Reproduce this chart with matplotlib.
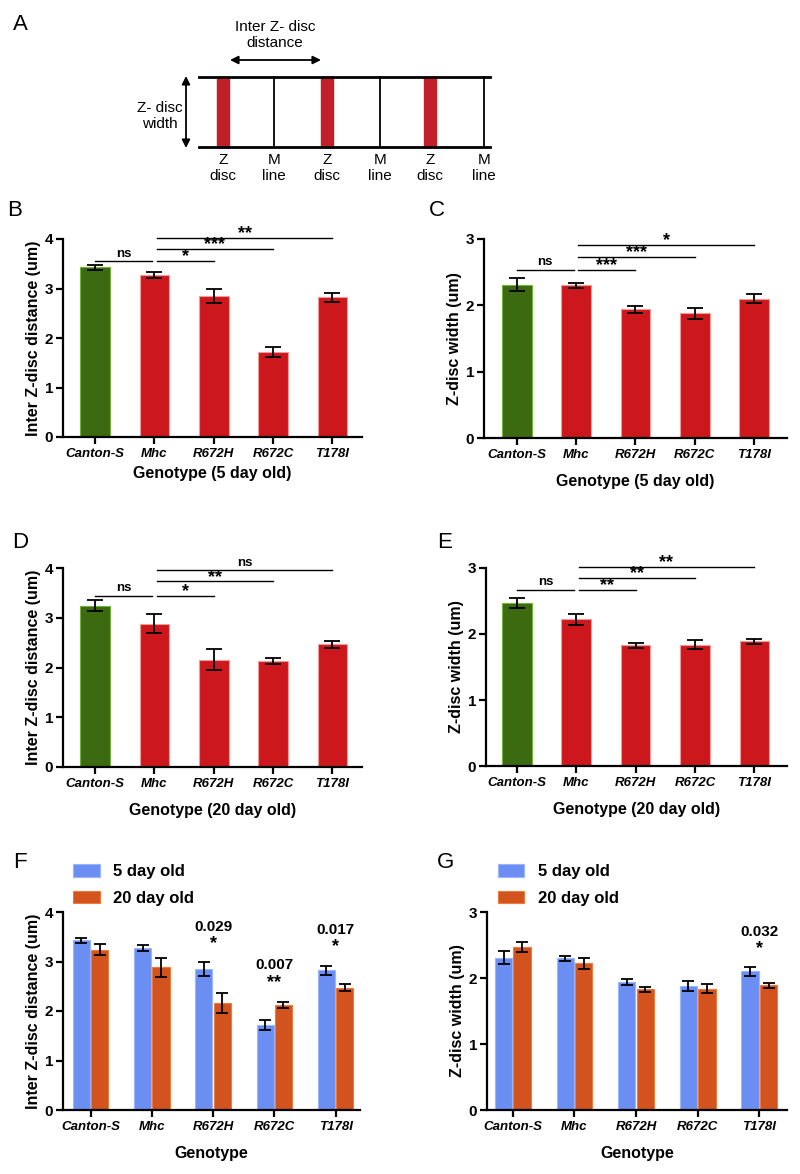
import numpy as np
import matplotlib
matplotlib.use("Agg")
import matplotlib.pyplot as plt
from matplotlib.patches import Rectangle

plt.rcParams['font.family'] = ['Liberation Sans', 'DejaVu Sans']
plt.rcParams['font.weight'] = 'bold'
plt.rcParams['axes.labelweight'] = 'bold'

# data
genotypes = ["Canton-S", "Mhc", "R672H", "R672C", "T178I"]

dist_5d = [3.43, 3.28, 2.84, 1.72, 2.82]
dist_5d_err = [0.05, 0.06, 0.14, 0.10, 0.09]
width_5d = [2.31, 2.30, 1.94, 1.88, 2.10]
width_5d_err = [0.10, 0.04, 0.05, 0.08, 0.07]
dist_20d = [3.24, 2.88, 2.16, 2.13, 2.47]
dist_20d_err = [0.11, 0.19, 0.21, 0.06, 0.07]
width_20d = [2.47, 2.22, 1.83, 1.84, 1.89]
width_20d_err = [0.08, 0.08, 0.04, 0.07, 0.04]

# significance brackets (from, to, height, label)
sig_b = [(0, 1, 3.55, "ns"), (1, 2, 3.55, "*"), (1, 3, 3.80, "***"), (1, 4, 4.03, "**")]
sig_c = [(0, 1, 2.54, "ns"), (1, 2, 2.54, "***"), (1, 3, 2.73, "***"), (1, 4, 2.91, "*")]
sig_d = [(0, 1, 3.44, "ns"), (1, 2, 3.44, "*"), (1, 3, 3.73, "**"), (1, 4, 3.95, "ns")]
sig_e = [(0, 1, 2.67, "ns"), (1, 2, 2.67, "**"), (1, 3, 2.85, "**"), (1, 4, 3.02, "**")]

# 5 vs 20 day tests (group, p value, stars, height)
pval_f = [(2, "0.029", "*", 3.70), (3, "0.007", "**", 2.92), (4, "0.017", "*", 3.64)]
pval_g = [(4, "0.032", "*", 2.70)]

GREEN = '#3b6a10'
GREEN_EDGE = '#74b03a'
RED = '#cc181c'
RED_EDGE = '#f29a9a'
BLUE = '#6b8ef2'
BLUE_EDGE = '#9ab6ff'
ORANGE = '#d2531d'
ORANGE_EDGE = '#f07a3a'

W, H = 800, 1174
fig = plt.figure(figsize=(W / 100, H / 100), dpi=100)


def px_axes(left, right, bottom, top):
    return fig.add_axes([left / W, 1 - bottom / H, (right - left) / W, (bottom - top) / H])


def style_axes(ax, ymax, ylabel, xlabel, xlim, xpad=9):
    for s in ['top', 'right']:
        ax.spines[s].set_visible(False)
    for s in ['left', 'bottom']:
        ax.spines[s].set_linewidth(1.6)
    ax.set_ylim(0, ymax)
    ax.set_xlim(*xlim)
    ax.set_yticks(range(ymax + 1))
    ax.set_yticklabels([str(v) for v in range(ymax + 1)], fontweight='bold', fontsize=11)
    ax.set_xticks(range(len(genotypes)))
    ax.set_xticklabels(genotypes, fontstyle='italic', fontweight='bold', fontsize=9.5)
    ax.tick_params(axis='y', width=1.6, length=5, pad=2)
    ax.tick_params(axis='x', width=1.6, length=5, pad=3)
    ax.set_ylabel(ylabel, fontsize=11.5, fontweight='bold', labelpad=3)
    ax.set_xlabel(xlabel, fontsize=11.5, fontweight='bold', labelpad=xpad)


def single_bars(ax, vals, errs, sigs):
    x = np.arange(len(vals))
    colors = [GREEN] + [RED] * (len(vals) - 1)
    edges = [GREEN_EDGE] + [RED_EDGE] * (len(vals) - 1)
    ax.bar(x, vals, width=0.5, color=colors, edgecolor=edges, linewidth=0.8, zorder=2)
    ax.errorbar(x, vals, yerr=errs, fmt='none', ecolor='black', elinewidth=1.3,
                capsize=6, capthick=1.3, zorder=3)
    for i, j, h, lab in sigs:
        x0 = i if i == 0 else i + 0.04
        x1 = j - 0.04 if j == 1 else j
        ax.plot([x0, x1], [h, h], color='black', lw=1, clip_on=False)
        if lab == "ns":
            ax.annotate(lab, ((x0 + x1) / 2, h), xytext=(0, 1), textcoords='offset points',
                        ha='center', va='bottom', fontsize=9.5, fontweight='bold',
                        annotation_clip=False)
        else:
            ax.annotate(lab, ((x0 + x1) / 2, h), xytext=(0, -3), textcoords='offset points',
                        ha='center', va='bottom', fontsize=13, fontweight='bold',
                        annotation_clip=False)


def grouped_bars(ax, v5, e5, v20, e20, pvals):
    x = np.arange(len(v5))
    ax.bar(x - 0.15, v5, width=0.28, color=BLUE, edgecolor=BLUE_EDGE, linewidth=0.8,
           label='5 day old', zorder=2)
    ax.bar(x + 0.15, v20, width=0.28, color=ORANGE, edgecolor=ORANGE_EDGE, linewidth=0.8,
           label='20 day old', zorder=2)
    ax.errorbar(x - 0.15, v5, yerr=e5, fmt='none', ecolor='black', elinewidth=1.3,
                capsize=4, capthick=1.3, zorder=3)
    ax.errorbar(x + 0.15, v20, yerr=e20, fmt='none', ecolor='black', elinewidth=1.3,
                capsize=4, capthick=1.3, zorder=3)
    for g, p, star, h in pvals:
        ax.text(g, h, p, ha='center', va='center', fontsize=11, fontweight='bold')
        ax.annotate(star, (g, h), xytext=(0, -12), textcoords='offset points',
                    ha='center', va='center', fontsize=13, fontweight='bold')
    ax.legend(loc='lower left', bbox_to_anchor=(0.035, 1.03), frameon=False,
              prop={'size': 12, 'weight': 'bold'},
              handlelength=1.6, handleheight=0.75, handletextpad=0.8, labelspacing=0.7,
              borderpad=0, borderaxespad=0)


# panel A: schematic
ax_a = fig.add_axes([0, 1 - 200 / H, 1, 200 / H])
ax_a.set_xlim(0, W)
ax_a.set_ylim(200, 0)
ax_a.axis('off')
zdisc_x = [223, 327, 430]
mline_x = [274, 380, 484]
top_y, bot_y = 77, 147
for zx in zdisc_x:
    ax_a.add_patch(Rectangle((zx - 6, top_y), 12, bot_y - top_y, color='#c1202b', zorder=1))
    ax_a.text(zx, 153, "Z\ndisc", ha='center', va='top', fontsize=11, fontweight='normal',
              linespacing=1.2)
for mx in mline_x:
    ax_a.plot([mx, mx], [top_y, bot_y], color='black', lw=1.3)
    ax_a.text(mx, 153, "M\nline", ha='center', va='top', fontsize=11, fontweight='normal',
              linespacing=1.2)
ax_a.plot([199, 490], [top_y, top_y], color='black', lw=2, zorder=2)
ax_a.plot([199, 490], [bot_y, bot_y], color='black', lw=2, zorder=2)
ax_a.annotate('', xy=(230, 60), xytext=(321, 60),
              arrowprops=dict(arrowstyle='<|-|>', color='black', lw=1.3, mutation_scale=12,
                              shrinkA=0, shrinkB=0))
ax_a.annotate('', xy=(186, 76), xytext=(186, 148),
              arrowprops=dict(arrowstyle='<|-|>', color='black', lw=1.3, mutation_scale=12,
                              shrinkA=0, shrinkB=0))
ax_a.text(275, 35, "Inter Z- disc\ndistance", ha='center', va='center', fontsize=11,
          fontweight='normal', linespacing=1.2)
ax_a.text(160, 116, "Z- disc\nwidth", ha='center', va='center', fontsize=11,
          fontweight='normal', linespacing=1.2)

# panels B-E
ax_b = px_axes(63, 362, 437, 239)
single_bars(ax_b, dist_5d, dist_5d_err, sig_b)
style_axes(ax_b, 4, "Inter Z-disc distance (um)", "Genotype (5 day old)", (-0.54, 4.5), xpad=4)

ax_c = px_axes(484, 787, 438, 239)
single_bars(ax_c, width_5d, width_5d_err, sig_c)
style_axes(ax_c, 3, "Z-disc width (um)", "Genotype (5 day old)", (-0.55, 4.55))

ax_d = px_axes(63, 362, 767, 568)
single_bars(ax_d, dist_20d, dist_20d_err, sig_d)
style_axes(ax_d, 4, "Inter Z-disc distance (um)", "Genotype (20 day old)", (-0.54, 4.5))

ax_e = px_axes(486, 787, 766, 568)
single_bars(ax_e, width_20d, width_20d_err, sig_e)
style_axes(ax_e, 3, "Z-disc width (um)", "Genotype (20 day old)", (-0.52, 4.55))

# panels F-G
ax_f = px_axes(63, 360, 1110, 912)
grouped_bars(ax_f, dist_5d, dist_5d_err, dist_20d, dist_20d_err, pval_f)
style_axes(ax_f, 4, "Inter Z-disc distance (um)", "Genotype", (-0.45, 4.4))

ax_g = px_axes(487, 787, 1110, 912)
grouped_bars(ax_g, width_5d, width_5d_err, width_20d, width_20d_err, pval_g)
style_axes(ax_g, 3, "Z-disc width (um)", "Genotype", (-0.42, 4.45))

# panel letters
letters = [("A", 20, 25), ("B", 15, 210), ("C", 437, 210), ("D", 20, 543),
           ("E", 445, 543), ("F", 20, 862), ("G", 445, 862)]
for lab, lx, ly in letters:
    fig.text(lx / W, 1 - ly / H, lab, fontsize=16, fontweight='normal', va='center', ha='center')

fig.savefig("out.png", dpi=100, facecolor='white')
